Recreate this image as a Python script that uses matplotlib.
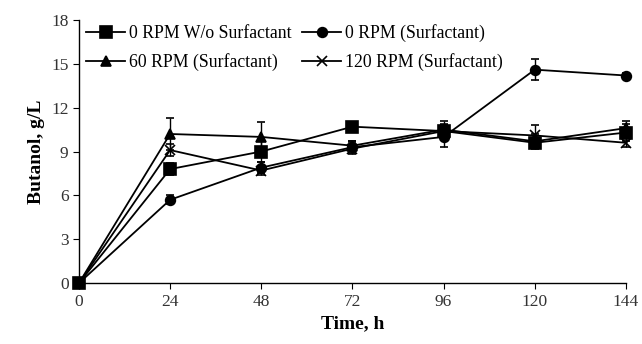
import matplotlib
matplotlib.use("Agg")
import matplotlib.pyplot as plt
from matplotlib.lines import Line2D

# Datos
tiempo = [0, 24, 48, 72, 96, 120, 144]
etiquetas = ["0 RPM W/o Surfactant", "0 RPM (Surfactant)",
             "60 RPM (Surfactant)", "120 RPM (Surfactant)"]
sin_surf = [0, 7.8, 9.0, 10.7, 10.4, 9.6, 10.3]
sin_surf_err = [0, 0.4, 0.7, 0.2, 0.4, 0.3, 0.6]
rpm0 = [0, 5.7, 7.9, 9.3, 10.0, 14.6, 14.2]
rpm0_err = [0, 0.3, 0.4, 0.4, 0.7, 0.7, 0.2]
rpm60 = [0, 10.2, 10.0, 9.4, 10.5, 9.7, 10.6]
rpm60_err = [0, 1.1, 1.0, 0.3, 0.6, 0.5, 0.5]
rpm120 = [0, 9.1, 7.7, 9.2, 10.4, 10.1, 9.6]
rpm120_err = [0, 0.4, 0.3, 0.4, 0.5, 0.7, 0.3]

plt.rcParams['font.family'] = ['Liberation Serif', 'DejaVu Serif']

fig = plt.figure(figsize=(6.42, 3.44), dpi=100)
ax = fig.add_axes([0.123, 0.177, 0.852, 0.765])

series = [(sin_surf, sin_surf_err, "s", 8), (rpm0, rpm0_err, "o", 7),
          (rpm60, rpm60_err, "^", 7), (rpm120, rpm120_err, "x", 7)]
handles = {}
for (vals, err, mk, ms), lab in zip(series, etiquetas):
    ax.errorbar(tiempo, vals, yerr=err, color="black", marker=mk, markersize=ms,
                linewidth=1.3, elinewidth=1, capsize=3, mew=1.2, clip_on=False,
                zorder=3)
    handles[lab] = Line2D([], [], color="black", marker=mk, markersize=ms,
                          linewidth=1.3, mew=1.2)

ax.set_xlim(0, 144)
ax.set_ylim(0, 18)
ax.set_xticks(tiempo)
ax.set_yticks([0, 3, 6, 9, 12, 15, 18])
ax.tick_params(direction="out", length=4, labelsize=12.5, colors="black")
ax.spines["top"].set_visible(False)
ax.spines["right"].set_visible(False)
for s in ("left", "bottom"):
    ax.spines[s].set_linewidth(1)
for lbl in ax.get_yticklabels() + ax.get_xticklabels():
    lbl.set_color("#333333")

ax.set_xlabel("Time, h", fontsize=14, fontweight="bold")
ax.set_ylabel("Butanol, g/L", fontsize=14, fontweight="bold")

# orden por columnas para que la primera fila sea 0 RPM / 0 RPM
orden = [etiquetas[0], etiquetas[2], etiquetas[1], etiquetas[3]]
ax.legend([handles[k] for k in orden], orden, loc="upper left", ncol=2,
          frameon=False, fontsize=12.8, handlelength=2.2, handletextpad=0.2,
          columnspacing=0.6, labelspacing=0.62, borderaxespad=0.0,
          bbox_to_anchor=(0.0, 1.01))

fig.savefig("out.png", dpi=100)
plt.close(fig)
